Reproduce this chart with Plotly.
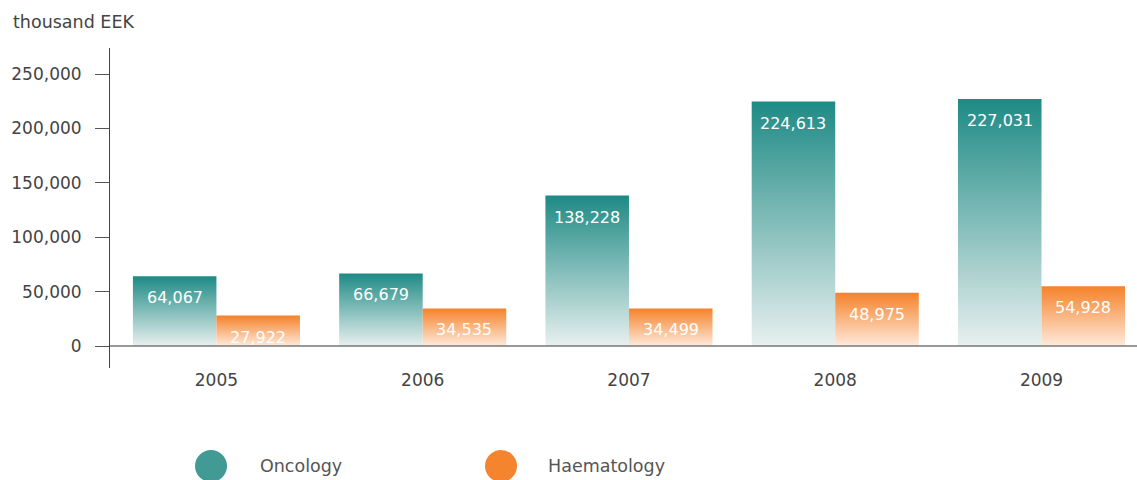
"""
Oncology vs haematology spending, thousand EEK, 2005-2009
"""

import plotly.graph_objects as go

years = ["2005", "2006", "2007", "2008", "2009"]
oncology = [64067, 66679, 138228, 224613, 227031]
haematology = [27922, 34535, 34499, 48975, 54928]
series_names = ["Oncology", "Haematology"]
y_ticks = [0, 50000, 100000, 150000, 200000, 250000]

FONT = "DejaVu Sans"
TEAL_TOP, TEAL_BOTTOM, TEAL_LEGEND = "#1e8a85", "#e8f0ef", "#429a95"
ORANGE_TOP, ORANGE_BOTTOM, ORANGE_LEGEND = "#f5822a", "#feeadb", "#f5842f"
BAR_W = 0.405

# plot area in pixels, used to place things in paper coords
PL, PR, PT, PB = 110, 1137, 48, 368


def px_x(px):
    return (px - PL) / (PR - PL)


def px_y(py):
    return (PB - py) / (PB - PT)


def bar_trace(xc, value, top, bottom):
    # rectangle built from the category index and the value, gradient fill
    x0, x1 = xc - BAR_W / 2, xc + BAR_W / 2
    return go.Scatter(
        x=[x0, x0, x1, x1, x0],
        y=[0, value, value, 0, 0],
        mode="lines",
        fill="toself",
        line=dict(width=0),
        fillgradient=dict(type="vertical",
                          colorscale=[[0, bottom], [1, top]]),
        hoverinfo="skip",
        showlegend=False,
    )


fig = go.Figure()
annotations = []
for i, year in enumerate(years):
    for values, offset, top, bottom in [
        (oncology, -BAR_W / 2, TEAL_TOP, TEAL_BOTTOM),
        (haematology, BAR_W / 2, ORANGE_TOP, ORANGE_BOTTOM),
    ]:
        xc = i + offset
        fig.add_trace(bar_trace(xc, values[i], top, bottom))
        annotations.append(dict(
            x=xc, y=values[i], xref="x", yref="y",
            text=f"{values[i]:,}", showarrow=False,
            yanchor="top", yshift=-10,
            font=dict(family=FONT, size=16, color="white"),
        ))

# axis title at top left
annotations.append(dict(
    x=px_x(11), y=px_y(22), xref="paper", yref="paper", text="thousand EEK",
    showarrow=False, xanchor="left", yanchor="middle",
    font=dict(family=FONT, size=17.5, color="#444"),
))

# manual legend with large circles
shapes = []
for name, color, cx, tx in [(series_names[0], TEAL_LEGEND, 211, 258),
                            (series_names[1], ORANGE_LEGEND, 501, 546)]:
    shapes.append(dict(
        type="circle", xref="paper", yref="paper",
        xsizemode="pixel", ysizemode="pixel",
        xanchor=px_x(cx), yanchor=px_y(466),
        x0=-16, x1=16, y0=-16, y1=16,
        fillcolor=color, line=dict(width=0),
    ))
    annotations.append(dict(
        x=px_x(tx), y=px_y(466),
        xref="paper", yref="paper", text=name, showarrow=False,
        xanchor="left", yanchor="middle",
        font=dict(family=FONT, size=17.5, color="#555"),
    ))

# baseline drawn over the bars
shapes.append(dict(
    type="line", xref="paper", yref="y", x0=0, x1=1, y0=0, y1=0,
    line=dict(color="#777", width=1.5), layer="above",
))

fig.update_layout(
    width=1137,
    height=480,
    margin=dict(l=PL, r=1137 - PR, t=PT, b=480 - PB),
    plot_bgcolor="white",
    paper_bgcolor="white",
    showlegend=False,
    font=dict(family=FONT, size=16, color="#444"),
    annotations=annotations,
    shapes=shapes,
)

fig.update_xaxes(
    range=[-0.516, 4.463],
    tickvals=list(range(len(years))),
    ticktext=years,
    showgrid=False,
    zeroline=False,
    showline=False,
    ticks="",
    tickfont=dict(family=FONT, size=17, color="#444"),
)

fig.update_yaxes(
    range=[-20221, 273897],
    tickvals=y_ticks,
    tickformat=",",
    showgrid=False,
    zeroline=False,
    showline=True,
    linecolor="#444",
    linewidth=1,
    ticks="outside",
    ticklen=14,
    tickcolor="#555",
    ticklabelstandoff=10,
    tickfont=dict(family=FONT, size=17, color="#444"),
)

# drop the default body margin so the chart sits at the page corner
fig.write_html(
    "out.html",
    config={"displayModeBar": False},
    post_script="document.body.style.margin='0';",
)
